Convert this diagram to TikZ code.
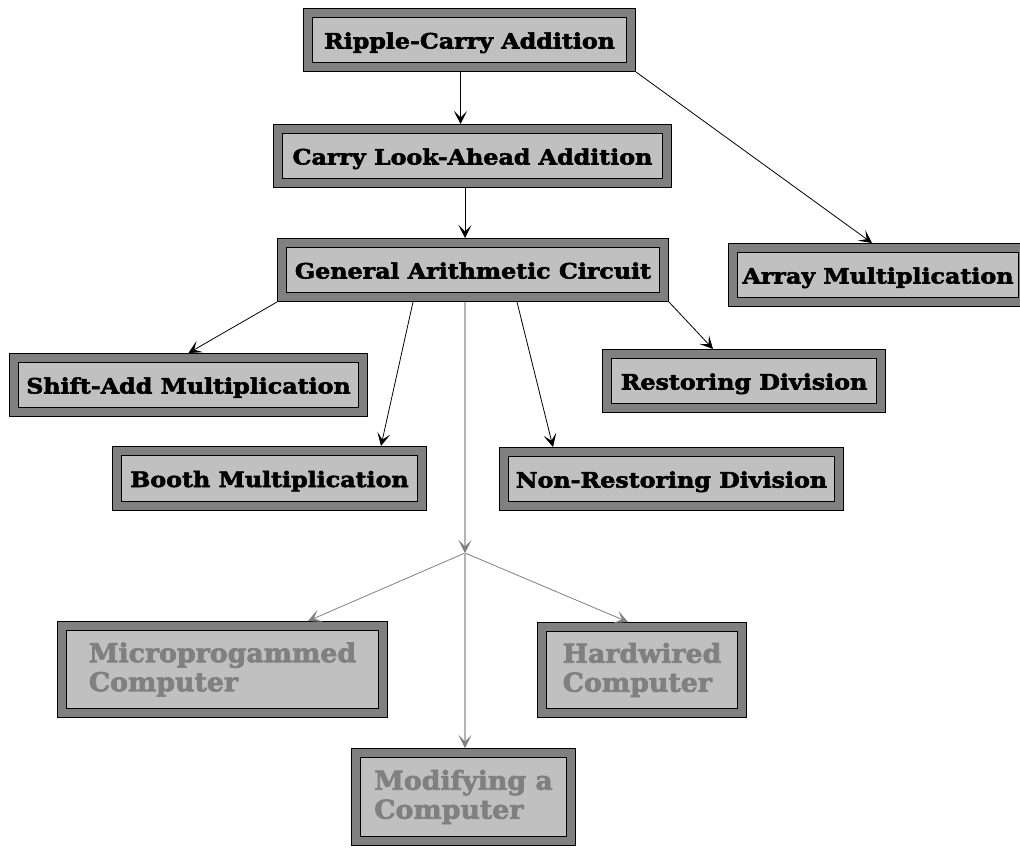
\documentclass[tikz,border=0pt]{standalone}
\usepackage{fontspec}
\newfontfamily\boxfont{DejaVu Serif Bold}[FakeStretch=1.12, FakeBold=2.5]
\newfontfamily\greyfont{DejaVu Serif Bold}[FakeStretch=1.03, FakeBold=2.5]
\usetikzlibrary{arrows.meta,calc}
\definecolor{frameg}{HTML}{808080}
\definecolor{fillg}{HTML}{C0C0C0}
\definecolor{lineg}{HTML}{B4B4B4}
\tikzset{
  box/.style={rectangle, fill=fillg, draw=black, line width=1pt,
    preaction={draw=black, line width=19pt},
    preaction={draw=frameg, line width=17pt},
    inner sep=0pt, outer sep=9.5pt},
  onebox/.style={box, text height=17pt, text depth=0pt,
    font=\boxfont\fontsize{21.2}{29}\selectfont},
  twobox/.style={box, align=left, text=frameg,
    font=\greyfont\fontsize{26}{29}\selectfont},
  tip/.style={-{Stealth[length=13pt,width=13pt,inset=6.5pt,#1]}},
  edge/.style={draw=black, line width=0.8pt, tip={color=black}},
  gedge/.style={draw=frameg, line width=0.8pt, tip={color=frameg}},
  vedge/.style={draw=lineg, line width=1.3pt, tip={color=frameg}},
}
\begin{document}
\begin{tikzpicture}[x=1pt,y=-1pt]
\useasboundingbox (0,0) rectangle (1020,847);
\node[onebox, minimum width=314pt, minimum height=45pt] (ripple) at (469.5,40) {Ripple-Carry Addition};
\node[onebox, minimum width=380pt, minimum height=45pt] (carry) at (472.5,156) {Carry Look-Ahead Addition};
\node[onebox, minimum width=373pt, minimum height=45pt] (gen) at (473,270) {General Arithmetic Circuit};
\node[onebox, minimum width=281pt, minimum height=45pt] (array) at (878,275) {Array Multiplication};
\node[onebox, minimum width=340pt, minimum height=45pt] (shift) at (188.5,385) {Shift-Add Multiplication};
\node[onebox, minimum width=265pt, minimum height=45pt] (restor) at (744,381) {Restoring Division};
\node[onebox, minimum width=296pt, minimum height=46pt] (booth) at (269.5,478.5) {Booth Multiplication};
\node[onebox, minimum width=326pt, minimum height=45pt] (nonrest) at (671.5,479) {Non-Restoring Division};
\node[twobox, minimum width=312pt, minimum height=78pt] (micro) at (222.5,669.5) {Microprogammed\\Computer};
\node[twobox, minimum width=191pt, minimum height=77pt] (hard) at (642,670) {Hardwired\\Computer};
\node[twobox, minimum width=206pt, minimum height=79pt] (modif) at (463.5,797) {Modifying a\\Computer};
\coordinate (J) at (465,553);
\draw[edge] ($(ripple.south)+(-9,0)$) -- ($(carry.north)+(-12,0)$);
\draw[edge] ($(carry.south)+(-7.5,0)$) -- ($(gen.north)+(-8,0)$);
\draw[edge] (ripple.south east) -- ($(array.north)+(-6,0)$);
\draw[edge] (gen.south west) -- (shift.north);
\draw[edge] ($(gen.south)+(-60,0)$) -- ($(booth.north)+(111.5,0)$);
\draw[edge] ($(gen.south)+(44,0)$) -- ($(nonrest.north)+(-118.5,0)$);
\draw[edge] (gen.south east) -- ($(restor.north)+(-31,0)$);
\draw[vedge] ($(gen.south)+(-8,0)$) -- (J);
\draw[gedge] (J) -- ($(micro.north)+(85.5,0)$);
\draw[gedge] (J) -- ($(hard.north)+(-14,0)$);
\draw[vedge] (J) -- ($(modif.north)+(1.5,0)$);
\end{tikzpicture}
\end{document}
